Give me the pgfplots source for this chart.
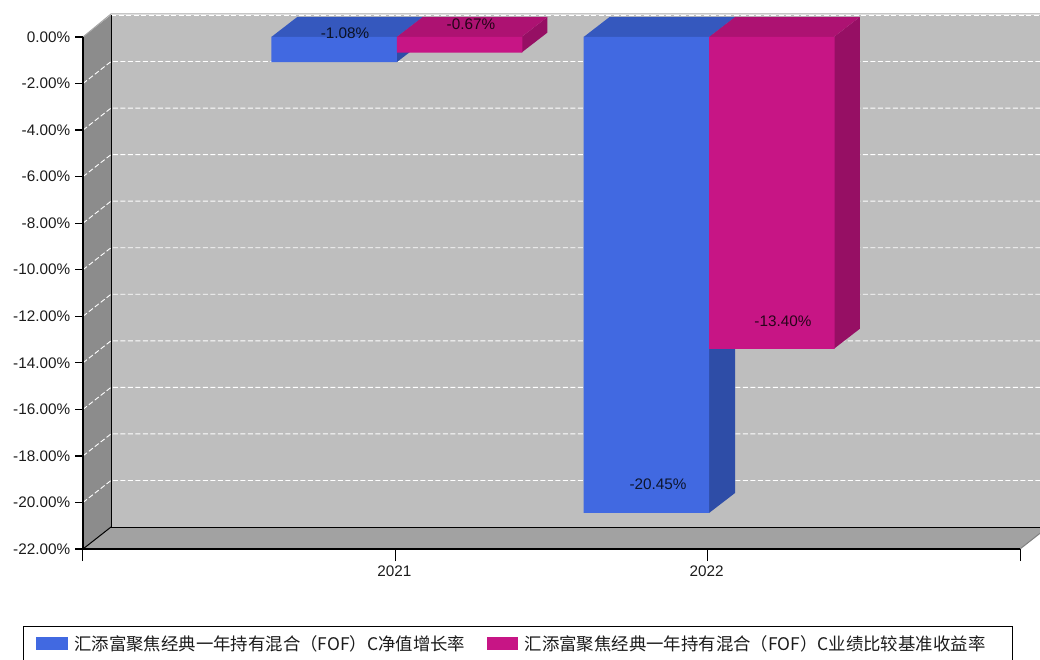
\documentclass[border=0pt]{standalone}
\usepackage{fontspec}
\setmainfont{Liberation Sans}
\newfontfamily\cjk{Noto Sans CJK SC}
\usepackage{pgfplots}
\pgfplotsset{compat=1.18}

\definecolor{wallback}{HTML}{BEBEBE}
\definecolor{wallleft}{HTML}{8C8C8C}
\definecolor{wallfloor}{HTML}{A2A2A2}
\definecolor{blueF}{HTML}{4169E1}
\definecolor{blueT}{HTML}{3558BE}
\definecolor{blueS}{HTML}{2E4DA7}
\definecolor{magF}{HTML}{C71585}
\definecolor{magT}{HTML}{AD1272}
\definecolor{magS}{HTML}{960F64}
\definecolor{txt}{HTML}{1C1C1C}

\pgfplotsset{
  face/.style={fill=#1, draw=none, forget plot},
  gridl/.style={white, line width=0.9pt, dash pattern=on 5pt off 2.5pt, forget plot},
  edge/.style={#1, line width=1pt, forget plot},
  swatch/.style={legend image code/.code={\fill[##1] (0pt,-6.5pt) rectangle (31.5pt,6.5pt);}},
}
\newcommand{\lbl}[1]{{\cjk\fontsize{17.4}{20}\selectfont #1}}

\begin{document}
\begin{tikzpicture}
\useasboundingbox (-83pt,-111pt) rectangle (957pt,549pt);
\begin{axis}[
  at={(0pt,0pt)}, anchor=south west,
  scale only axis, width=937pt, height=512pt,
  clip=false, axis on top,
  xmin=2020, xmax=2023, ymin=-22, ymax=0,
  axis lines=left,
  axis line style={-, black, line width=1.3pt},
  xtick={2020,2021,2022,2023},
  xticklabels={,2021,2022,},
  ytick={-22,-20,-18,-16,-14,-12,-10,-8,-6,-4,-2,0},
  yticklabels={-22.00\%,-20.00\%,-18.00\%,-16.00\%,-14.00\%,-12.00\%,-10.00\%,-8.00\%,-6.00\%,-4.00\%,-2.00\%,0.00\%},
  tick align=outside,
  xtick style={black, line width=1pt, /pgfplots/major tick length=12pt},
  ytick style={black, line width=1.3pt, /pgfplots/major tick length=8pt},
  tick label style={font=\fontsize{15.3}{18}\selectfont, text=txt},
  yticklabel style={xshift=-5pt},
  xticklabel style={xshift=-1pt, yshift=-9pt},
  legend style={
    at={(-0.064,-0.1523)}, anchor=north west,
    draw=none, fill=none,
    inner xsep=13pt, inner ysep=6pt,
    legend columns=2,
    /tikz/every even column/.append style={column sep=15pt},
    legend cell align=left,
    nodes={inner xsep=6.5pt, inner ysep=2pt, text=txt},
  },
]
% walls and floor
\addplot[face=wallback] coordinates {(2020.0897,0.945)(2023.0897,0.945)(2023.0897,-21.055)(2020.0897,-21.055)} --cycle;
\addplot[face=wallleft] coordinates {(2020,0)(2020.0897,0.945)(2020.0897,-21.055)(2020,-22)} --cycle;
\addplot[face=wallfloor] coordinates {(2020,-22)(2020.0897,-21.055)(2023.0897,-21.055)(2023,-22)} --cycle;

% dashed grid on left and back wall
\addplot[gridl] coordinates {(2020,-2)(2020.0897,-1.055)(2023.0897,-1.055)};
\addplot[gridl] coordinates {(2020,-4)(2020.0897,-3.055)(2023.0897,-3.055)};
\addplot[gridl] coordinates {(2020,-6)(2020.0897,-5.055)(2023.0897,-5.055)};
\addplot[gridl] coordinates {(2020,-8)(2020.0897,-7.055)(2023.0897,-7.055)};
\addplot[gridl] coordinates {(2020,-10)(2020.0897,-9.055)(2023.0897,-9.055)};
\addplot[gridl] coordinates {(2020,-12)(2020.0897,-11.055)(2023.0897,-11.055)};
\addplot[gridl] coordinates {(2020,-14)(2020.0897,-13.055)(2023.0897,-13.055)};
\addplot[gridl] coordinates {(2020,-16)(2020.0897,-15.055)(2023.0897,-15.055)};
\addplot[gridl] coordinates {(2020,-18)(2020.0897,-17.055)(2023.0897,-17.055)};
\addplot[gridl] coordinates {(2020,-20)(2020.0897,-19.055)(2023.0897,-19.055)};
\addplot[edge=gray!70] coordinates {(2020,0)(2020.0897,0.99)(2023.0897,0.99)};
\addplot[gridl] coordinates {(2020.0897,0.945)(2023.0897,0.945)};

% wall edges
\addplot[edge=black] coordinates {(2020.0897,0.945)(2020.0897,-21.055)(2023.0897,-21.055)};
\addplot[edge=black] coordinates {(2020,-22)(2020.0897,-21.055)};
\addplot[edge=gray] coordinates {(2023,-22)(2023.0897,-21.055)};
\addplot[edge=black] coordinates {(2020,0)(2020,-22)};

% blue series: side and top faces, then front
\addplot[face=blueS] coordinates {(2021.0047,0)(2021.088,0.86)(2021.088,-0.22)(2021.0047,-1.08)} --cycle;
\addplot[face=blueT] coordinates {(2020.603,0)(2020.686,0.86)(2021.088,0.86)(2021.0047,0)} --cycle;
\addplot[face=blueS] coordinates {(2022.0047,0)(2022.088,0.86)(2022.088,-19.59)(2022.0047,-20.45)} --cycle;
\addplot[face=blueT] coordinates {(2021.603,0)(2021.686,0.86)(2022.088,0.86)(2022.0047,0)} --cycle;
\addplot[ybar, bar width=125.5pt, bar shift=-61.25pt, fill=blueF, draw=none, swatch]
  coordinates {(2021,-1.08)(2022,-20.45)};
\addlegendentry{\lbl{汇添富聚焦经典一年持有混合（FOF）C净值增长率}}

% magenta series
\addplot[face=magS] coordinates {(2021.404,0)(2021.487,0.86)(2021.487,0.19)(2021.404,-0.67)} --cycle;
\addplot[face=magT] coordinates {(2021.0047,0)(2021.088,0.86)(2021.487,0.86)(2021.404,0)} --cycle;
\addplot[face=magS] coordinates {(2022.404,0)(2022.487,0.86)(2022.487,-12.54)(2022.404,-13.40)} --cycle;
\addplot[face=magT] coordinates {(2022.0047,0)(2022.088,0.86)(2022.487,0.86)(2022.404,0)} --cycle;
\addplot[ybar, bar width=125.5pt, bar shift=64.25pt, fill=magF, draw=none, swatch]
  coordinates {(2021,-0.67)(2022,-13.40)};
\addlegendentry{\lbl{汇添富聚焦经典一年持有混合（FOF）C业绩比较基准收益率}}

% value labels
\begin{scope}[every node/.style={font=\fontsize{15.3}{18}\selectfont, text=black, text opacity=0.8}]
\node at (axis cs:2020.839,0.17) {-1.08\%};
\node at (axis cs:2021.242,0.56) {-0.67\%};
\node at (axis cs:2021.841,-19.21) {-20.45\%};
\node at (axis cs:2022.241,-12.2) {-13.40\%};
\end{scope}

% legend frame, bottom edge falls off the page
\draw[black, line width=1pt] (axis description cs:-0.064,-0.22) -- (axis description cs:-0.064,-0.1523)
  -- (axis description cs:0.9915,-0.1523) -- (axis description cs:0.9915,-0.22);
\end{axis}
\end{tikzpicture}
\end{document}
